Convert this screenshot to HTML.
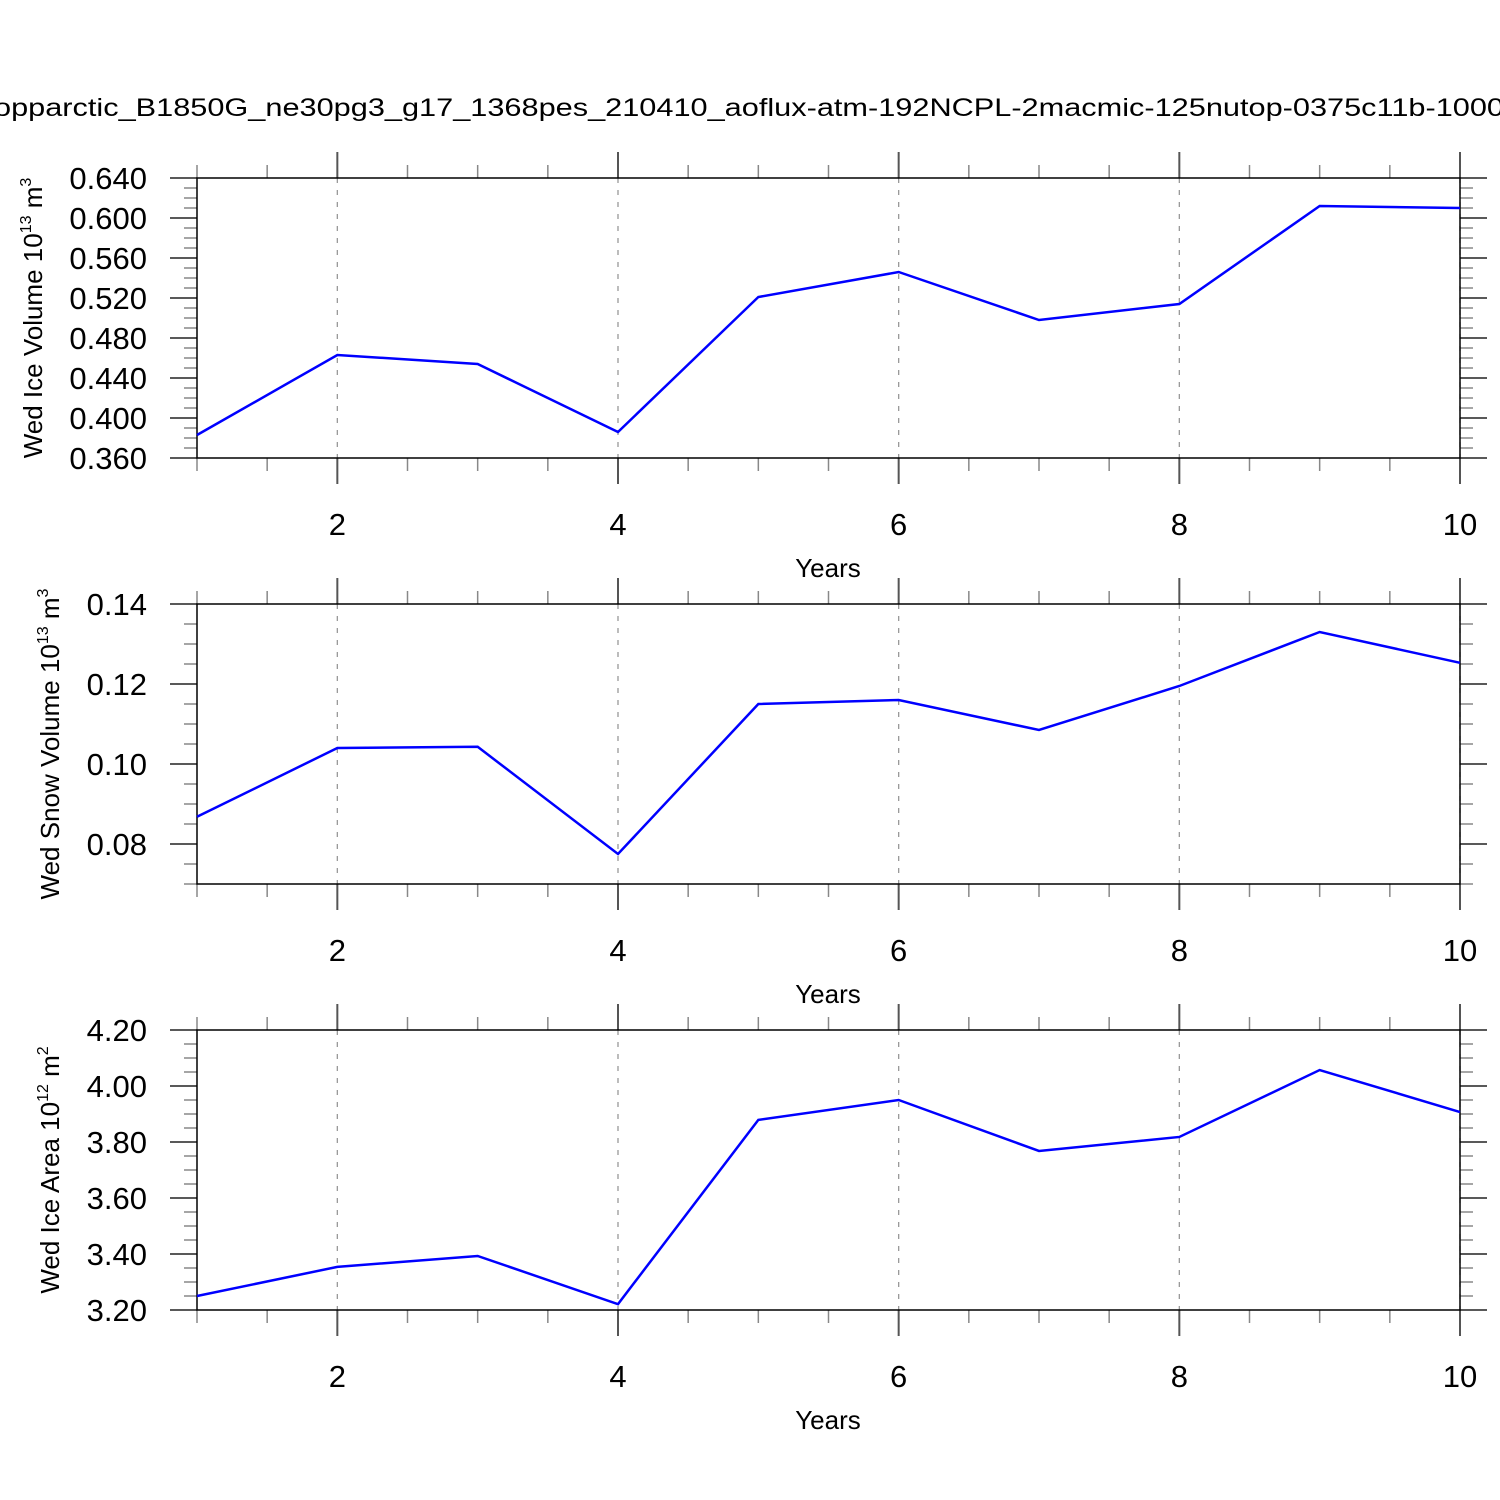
<!DOCTYPE html>
<html><head><meta charset="utf-8"><style>body{margin:0;background:#fff}svg{display:block}</style></head>
<body>
<svg id="chart" xmlns="http://www.w3.org/2000/svg" width="1500" height="1500" font-family="Liberation Sans, sans-serif">
<rect width="1500" height="1500" fill="#fff"/>
<text x="-6" y="116" font-size="25" textLength="1510" lengthAdjust="spacingAndGlyphs">opparctic_B1850G_ne30pg3_g17_1368pes_210410_aoflux-atm-192NCPL-2macmic-125nutop-0375c11b-1000</text>
<g id="plots"></g>
</svg>
<script>
const years = [1,2,3,4,5,6,7,8,9,10];
const iceVolume = [0.383,0.463,0.454,0.386,0.521,0.546,0.498,0.514,0.612,0.610];
const snowVolume = [0.0868,0.104,0.1043,0.0775,0.115,0.116,0.1085,0.1195,0.133,0.1253];
const iceArea = [3.25,3.354,3.393,3.221,3.879,3.95,3.768,3.818,4.057,3.907];
const xTickLabels = [2,4,6,8,10];
const iceVolTicks = [0.36,0.40,0.44,0.48,0.52,0.56,0.60,0.64];
const snowVolTicks = [0.08,0.10,0.12,0.14];
const iceAreaTicks = [3.2,3.4,3.6,3.8,4.0,4.2];

const NS="http://www.w3.org/2000/svg";
const root=document.getElementById('plots');
function mk(tag,attrs,parent){const e=document.createElementNS(NS,tag);for(const k in attrs)e.setAttribute(k,attrs[k]);(parent||root).appendChild(e);return e;}
const X0=197,X1=1460;
function xs(v){return X0+(v-1)/(10-1)*(X1-X0);}

const panels=[
 {top:178,ymin:0.36,ymax:0.64,ticks:iceVolTicks,minor:0.01,dec:3,data:iceVolume,label:'Wed Ice Volume 10',sup:'13',unit:' m',usup:'3',name:'ice-volume'},
 {top:604,ymin:0.07,ymax:0.14,ticks:snowVolTicks,minor:0.005,dec:2,data:snowVolume,label:'Wed Snow Volume 10',sup:'13',unit:' m',usup:'3',name:'snow-volume'},
 {top:1030,ymin:3.2,ymax:4.2,ticks:iceAreaTicks,minor:0.05,dec:2,data:iceArea,label:'Wed Ice Area 10',sup:'12',unit:' m',usup:'2',name:'ice-area'}
];
panels.forEach(p=>{
 const H=280,bot=p.top+H;
 const ys=v=>bot-(v-p.ymin)/(p.ymax-p.ymin)*H;
 const g=mk('g',{});
 
 
 // grid
 xTickLabels.forEach(t=>{const l=mk('line',{x1:xs(t),x2:xs(t),y1:p.top,y2:bot,stroke:'#999','stroke-width':1.3,'stroke-dasharray':'5,7'},g);
  });
 // x ticks
 for(let v=1;v<=10.001;v+=0.5){const major=xTickLabels.includes(v);const x=xs(v);const len=major?26:13;
  mk('line',{x1:x,x2:x,y1:p.top-len,y2:p.top,stroke:major?'#555':'#888','stroke-width':major?2:1.5},g);
  mk('line',{x1:x,x2:x,y1:bot,y2:bot+len,stroke:major?'#555':'#888','stroke-width':major?2:1.5},g);}
 // y ticks
 const n=Math.round((p.ymax-p.ymin)/p.minor);
 for(let i=0;i<=n;i++){const v=p.ymin+i*p.minor;const y=ys(v);const major=p.ticks.some(t=>Math.abs(t-v)<1e-9);const len=major?27:13;
  mk('line',{x1:X0-len,x2:X0,y1:y,y2:y,stroke:major?'#222':'#777','stroke-width':major?1.5:1.3},g);
  mk('line',{x1:X1,x2:X1+len,y1:y,y2:y,stroke:major?'#222':'#777','stroke-width':major?1.5:1.3},g);}
 // frame
 mk('rect',{x:X0,y:p.top,width:X1-X0,height:H,fill:'none',stroke:'#000','stroke-width':1.5},g);
 // y labels
 p.ticks.forEach(t=>{const tx=mk('text',{x:147,y:ys(t)+11,'text-anchor':'end','font-size':31},g);tx.textContent=t.toFixed(p.dec);
  });
 // x labels
 xTickLabels.forEach(t=>{const tx=mk('text',{x:xs(t),y:bot+77,'text-anchor':'middle','font-size':31},g);tx.textContent=t;
  });
 const xt=mk('text',{x:828,y:bot+119,'text-anchor':'middle','font-size':26},g);xt.textContent='Years';
 
 // y title
 const yt=mk('text',{x:0,y:0,'text-anchor':'middle','font-size':26,transform:`translate(${p.name==='ice-volume'?42:59},${p.top+H/2}) rotate(-90)`},g);
 
 const a=mk('tspan',{},yt);a.textContent=p.label;
 const b=mk('tspan',{dy:-11,'font-size':16},yt);b.textContent=p.sup;
 const c=mk('tspan',{dy:11},yt);c.textContent=p.unit;
 const d=mk('tspan',{dy:-11,'font-size':16},yt);d.textContent=p.usup;
 // line
 const pts=p.data.map((v,i)=>xs(years[i])+','+ys(v)).join(' ');
 const pl=mk('polyline',{points:pts,fill:'none',stroke:'#0000ff','stroke-width':2.5},g);
 
});
</script>
</body></html>
